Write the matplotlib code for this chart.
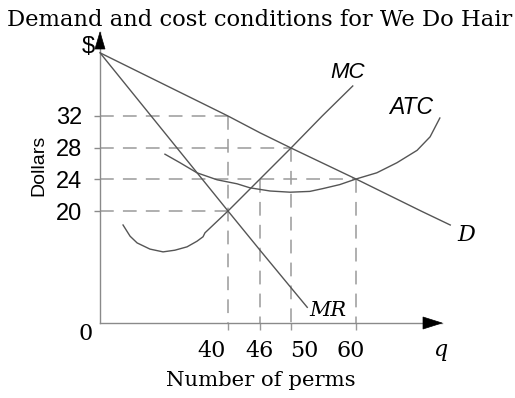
import numpy as np
import matplotlib
matplotlib.use("Agg")
import matplotlib.pyplot as plt
import matplotlib.transforms as mtransforms
from matplotlib.patches import Polygon

# ---------------- data ----------------
x_ticks = [40, 46, 50, 60]
x_tick_labels = ["40", "46", "50", "60"]
y_ticks = [20, 24, 28, 32]
y_tick_labels = ["20", "24", "28", "32"]

demand_q = [0, 40, 46, 50, 60, 70, 74.5]
demand_p = [40, 32, 29.9, 28, 24, 20, 17.5]

mr_q = [0, 40, 46, 50, 52.5]
mr_p = [40, 20, 13, 6.3, 2.8]

mc_q = [7.2, 9.4, 11.6, 15.6, 19.7, 23.4, 27.2, 30.3, 32.2, 32.8, 40, 46, 50, 54.8, 59.5]
mc_p = [17.5, 15.5, 14.3, 13.2, 12.7, 13.0, 13.6, 14.6, 15.4, 16.1, 20, 24, 28, 32, 35.8]

atc_q = [20.3, 25.0, 30.3, 36.6, 41.7, 44.1, 47.3, 49.9, 52.9, 54.9, 57.5, 60.0,
         63.2, 66.3, 69.4, 71.4, 72.9]
atc_p = [27.2, 26.1, 24.8, 23.9, 23.4, 22.9, 22.5, 22.35, 22.45, 22.8, 23.3, 24.0,
         24.8, 26.1, 27.7, 29.4, 31.75]

# dashed guides: horizontal (price, up to quantity) and vertical (quantity, from price)
hguide_p = [32, 28, 24, 20]
hguide_q = [40, 50, 60, 40]
vguide_q = [40, 46, 50, 60]
vguide_p = [32, 24, 28, 24]

# ---------------- stylised (not-to-scale) axes ----------------
qk = [-100, 0, 40, 46, 50, 60, 300]
uk = [-320, 0, 128, 160, 191, 256, 256 + 240 * 6.5]
pk = [-100, 0, 20, 24, 28, 32, 300]
vk = [-560, 0, 112, 144, 175, 207, 207 + 268 * 7.9]

def fx(a):
    return np.interp(a, qk, uk)

def ix(a):
    return np.interp(a, uk, qk)

def fy(a):
    return np.interp(a, pk, vk)

def iy(a):
    return np.interp(a, vk, pk)

W, H = 515, 398
fig = plt.figure(figsize=(W / 100, H / 100), dpi=100)
L, R, B, T = 100, 452, 323, 31
ax = fig.add_axes([L / W, (H - B) / H, (R - L) / W, (B - T) / H])
ax.set_xscale("function", functions=(fx, ix))
ax.set_yscale("function", functions=(fy, iy))
ax.set_xlim(0, float(ix(R - L)))
ax.set_ylim(0, float(iy(B - T)))
for s in ax.spines.values():
    s.set_visible(False)

curve_col = "#555555"
axis_col = "#8a8a8a"
dash_col = "#9a9a9a"

# guides
for p, q in zip(hguide_p, hguide_q):
    ax.plot([0, q], [p, p], color=dash_col, lw=1.1, dashes=(9, 6), zorder=1)
for q, p in zip(vguide_q, vguide_p):
    ax.plot([q, q], [p, 0], color=dash_col, lw=1.1, dashes=(9, 6), zorder=1)

# curves
ax.plot(demand_q, demand_p, color=curve_col, lw=1.0, clip_on=False, zorder=3)
ax.plot(mr_q, mr_p, color=curve_col, lw=1.0, zorder=3)
ax.plot(mc_q, mc_p, color=curve_col, lw=1.0, zorder=3)
ax.plot(atc_q, atc_p, color=curve_col, lw=1.0, zorder=3)

# axes lines with arrows
xtip = float(ix(442 - L))
ytip = float(iy(B - 32))
ax.plot([0, xtip], [0, 0], color=axis_col, lw=1.0, clip_on=False, zorder=2)
ax.plot([0, 0], [0, ytip], color=axis_col, lw=1.0, clip_on=False, zorder=2)

def arrow_head(x, y, verts_px):
    tr = mtransforms.Affine2D().scale(1 / 100.0) + fig.dpi_scale_trans + \
        mtransforms.ScaledTranslation(x, y, ax.transData)
    ax.add_patch(Polygon(verts_px, closed=True, facecolor="black", edgecolor="black",
                         lw=0.5, transform=tr, clip_on=False, zorder=4))

arrow_head(xtip, 0, [(0, 0), (-19, 6), (-19, -6)])
arrow_head(0, ytip, [(0, 0), (-5, -17), (5, -17)])

# ticks
ax.set_yticks(y_ticks, y_tick_labels)
ax.tick_params(axis="y", direction="out", length=4, width=1, color=axis_col, pad=9,
               labelsize=17)
for lab in ax.get_yticklabels():
    lab.set_fontfamily("Liberation Sans")
ax.set_xticks(x_ticks, [""] * len(x_ticks))
ax.tick_params(axis="x", direction="out", length=5, width=1, color=dash_col)

serif = "DejaVu Serif"
x_label_dx = [-16, 0, 13, -5]
for q, lab, dx in zip(x_ticks, x_tick_labels, x_label_dx):
    ax.annotate(lab, xy=(q, 0), xytext=(dx * 0.72, -28 * 0.72), textcoords="offset points",
                ha="center", va="center", fontsize=16, family=serif, annotation_clip=False)

# other text (pixel positions converted to figure fraction)
def ftext(x, y, s, **kw):
    fig.text(x / W, 1 - y / H, s, ha="center", va="center", **kw)

ftext(260, 20, "Demand and cost conditions for We Do Hair", fontsize=16.3, family=serif)
ftext(261, 380, "Number of perms", fontsize=15.3, family=serif)
ftext(39, 165, "Dollars", fontsize=14, family="Liberation Sans", rotation=90)
ftext(88, 47, "$", fontsize=17, family="Liberation Sans")
ftext(86, 334, "0", fontsize=16, family=serif)
ftext(348, 73, "MC", fontsize=16, family="Liberation Sans", style="italic")
ftext(411, 108, "ATC", fontsize=16.5, family="Liberation Sans", style="italic")
ftext(466, 235, "D", fontsize=16, family=serif, style="italic")
ftext(328, 310, "MR", fontsize=15, family=serif, style="italic")
ftext(440, 350, "q", fontsize=16, family=serif, style="italic")

fig.savefig("out.png", dpi=100)
